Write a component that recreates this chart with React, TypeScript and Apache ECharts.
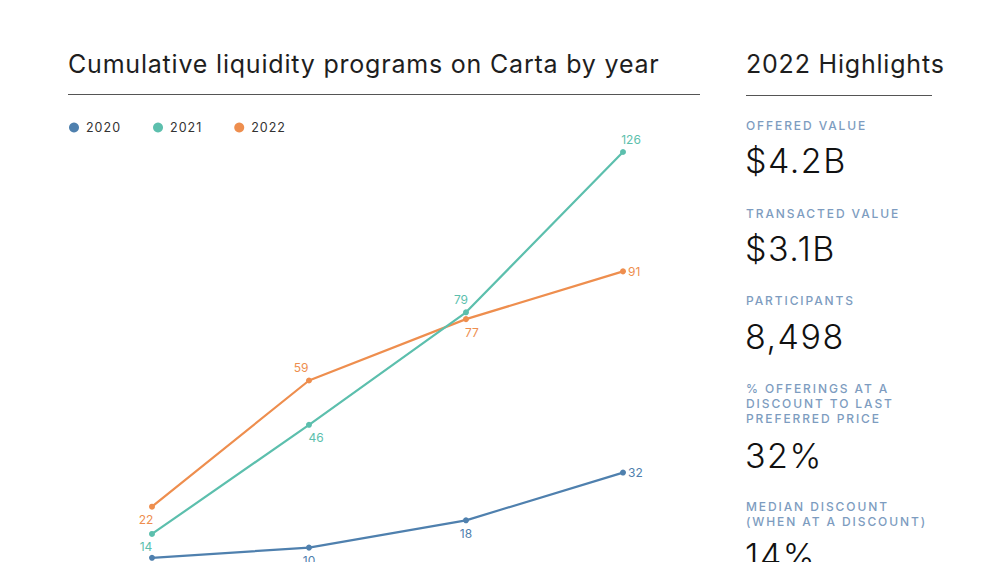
import React, { useEffect, useRef } from "react";
import * as echarts from "echarts";

const periods = ["Q1", "Q2", "Q3", "Q4"];
const years = ["2020", "2021", "2022"];
const values2020 = [7, 10, 18, 32];
const values2021 = [14, 46, 79, 126];
const values2022 = [22, 59, 77, 91];
const labelPos2020 = ["bottom", "bottom", "bottom", "right"];
const labelPos2021 = ["bottom", "bottom", "top", "top"];
const labelPos2022 = ["bottom", "top", "bottom", "right"];
const colors = ["#4f80ae", "#5cbfad", "#ee8e4e"];

const chartTitle = "Cumulative liquidity programs on Carta by year";
const panelTitle = "2022 Highlights";
const highlightLabels = [
  ["OFFERED VALUE"],
  ["TRANSACTED VALUE"],
  ["PARTICIPANTS"],
  ["% OFFERINGS AT A", "DISCOUNT TO LAST", "PREFERRED PRICE"],
  ["MEDIAN DISCOUNT", "(WHEN AT A DISCOUNT)"],
];
const highlightValues = ["$4.2B", "$3.1B", "8,498", "32%", "14%"];

const FONT = "Inter, 'Noto Sans', sans-serif";

// small horizontal nudges of value labels, per series and point
const labelNudges = [
  [0, 0, 0, 0],
  [-6, 7, -5, 8],
  [-6, -8, 6, 0],
];

export default function App() {
  const ref = useRef<HTMLDivElement>(null);
  useEffect(() => {
    if (!ref.current) return;
    const chart = echarts.init(ref.current, null, { renderer: "svg" });
    const seriesData = [values2020, values2021, values2022];
    const positions = [labelPos2020, labelPos2021, labelPos2022];

    const series = years.map((y, i) => ({
      name: y,
      type: "line",
      data: seriesData[i].map((v, j) => ({
        value: v,
        label: {
          position: positions[i][j],
          distance: positions[i][j] === "right" ? 2 : 4,
          offset: [labelNudges[i][j], 0],
        },
      })),
      symbol: "circle",
      symbolSize: 6,
      lineStyle: { width: 2.2, color: colors[i] },
      itemStyle: { color: colors[i] },
      label: {
        show: true,
        color: colors[i],
        fontFamily: FONT,
        fontSize: 12,
      },
      clip: false,
      z: i === 1 ? 3 : 2,
    }));

    const graphics: any[] = [
      {
        type: "text",
        left: 68,
        top: 51,
        style: { text: chartTitle, font: `400 25px ${FONT}`, fill: "#1e1e1e" },
      },
      {
        type: "line",
        shape: { x1: 68, y1: 94.5, x2: 700, y2: 94.5 },
        style: { stroke: "#555", lineWidth: 1 },
      },
      {
        type: "text",
        left: 746,
        top: 51,
        style: { text: panelTitle, font: `400 25px ${FONT}`, fill: "#1e1e1e" },
      },
      {
        type: "line",
        shape: { x1: 746, y1: 95.5, x2: 932, y2: 95.5 },
        style: { stroke: "#555", lineWidth: 1 },
      },
    ];
    const labelTops = [125, 213, 300, 388, 506];
    const valueTops = [160, 248, 336, 455, 555];
    highlightLabels.forEach((lines, k) => {
      lines.forEach((ln, m) => {
        graphics.push({
          type: "text",
          x: 746,
          y: labelTops[k] + m * 15,
          style: {
            text: ln,
            font: `500 12px ${FONT}`,
            fill: "#7d9cc0",
            verticalAlign: "middle",
          },
        });
      });
      graphics.push({
        type: "text",
        x: 745,
        y: valueTops[k],
        style: {
          text: highlightValues[k],
          font: `300 34px ${FONT}`,
          fill: "#111",
          verticalAlign: "middle",
        },
      });
    });

    chart.setOption({
      animation: false,
      color: colors,
      legend: {
        data: years,
        left: 64,
        top: 116,
        icon: "circle",
        itemWidth: 10,
        itemHeight: 10,
        itemGap: 36,
        textStyle: { fontFamily: FONT, fontSize: 12.5, color: "#333", padding: [0, 0, 0, 2] },
      },
      grid: { left: 152, top: 152, width: 471, bottom: 0 },
      xAxis: {
        type: "category",
        data: periods,
        boundaryGap: false,
        show: false,
      },
      yAxis: { type: "value", min: 5.78, max: 126, show: false },
      graphic: graphics,
      series,
    });

    const svg = ref.current.querySelector("svg");
    if (svg) {
      svg.querySelectorAll("text").forEach((t) => {
        const s = t.textContent || "";
        if (highlightLabels.some((l) => l.includes(s))) {
          t.setAttribute("letter-spacing", "1.9");
        } else if (years.includes(s)) {
          t.setAttribute("letter-spacing", "1");
        } else if (s === chartTitle || s === panelTitle) {
          t.setAttribute("letter-spacing", "0.8");
        } else if (highlightValues.includes(s)) {
          t.setAttribute("letter-spacing", "1.5");
        }
      });
    }
    return () => chart.dispose();
  }, []);
  return <div ref={ref} style={{ width: 1000, height: 562, position: "absolute", left: 0, top: 0, background: "#fff" }} />;
}
